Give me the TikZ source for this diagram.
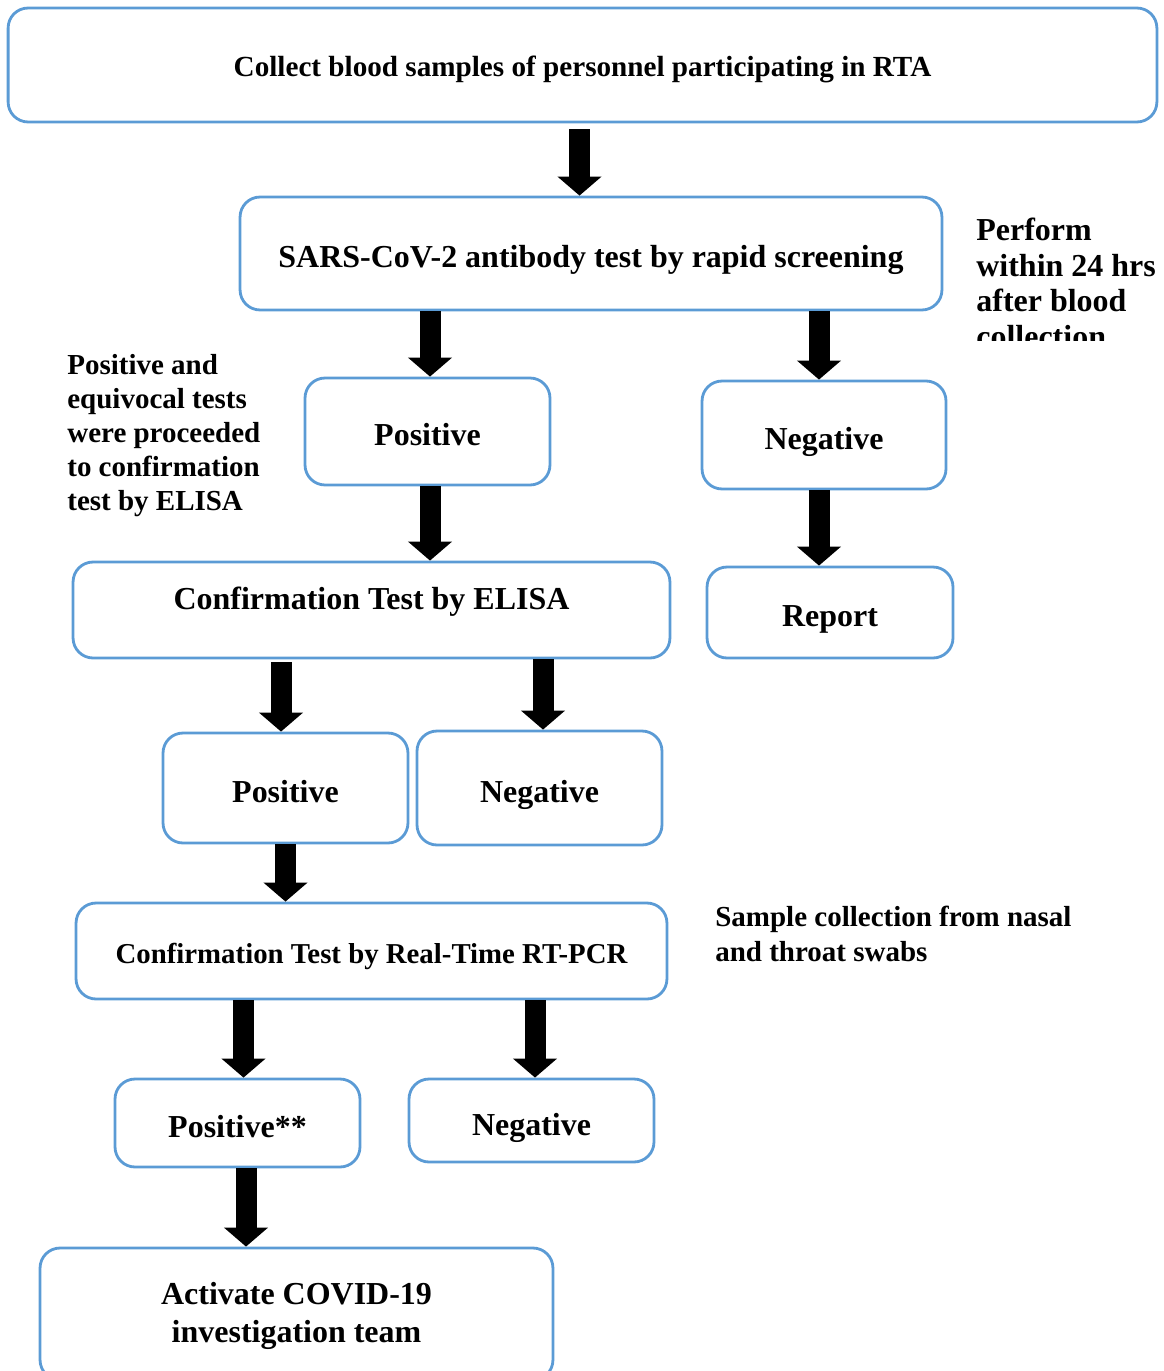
\documentclass[tikz,border=0pt]{standalone}
\usepackage{fontspec}
\setmainfont{Liberation Serif}
\usetikzlibrary{arrows.meta, positioning}
\definecolor{boxblue}{RGB}{91,155,213}

\begin{document}
\begin{tikzpicture}[x=0.02cm, y=-0.02cm,
    box/.style={draw=boxblue, line width=1.6pt, rounded corners=0.4cm, inner sep=0pt,
      align=center, text height=17.5pt, text depth=1pt,
      font=\bfseries\fontsize{18.2}{21.5}\selectfont},
    boxtext/.style={inner sep=0pt, align=center, font=\bfseries\fontsize{18.2}{21.6}\selectfont},
    note/.style={inner sep=0pt, align=left, anchor=north west, font=\bfseries\fontsize{16.5}{19.4}\selectfont},
    blockarrow/.style={line width=0.42cm, -{Triangle[width=0.86cm,length=0.38cm]}}]
        \useasboundingbox (0,0) rectangle (1163,1371);
        \clip (0,0) rectangle (1163,1371);

        % Screening
        \node[box, minimum width=22.98cm, minimum height=2.28cm, text height=14pt, font=\bfseries\fontsize{16.6}{20}\selectfont] (collect) at (582.5,65) {Collect blood samples of personnel participating in RTA};
        \node[box, minimum width=14.04cm, minimum height=2.26cm] (rapid) at (591,253.5) {SARS-CoV-2 antibody test by rapid screening};
        \node[box, minimum width=4.9cm, minimum height=2.14cm] (rapidpos) at (427.5,431.5) {Positive};
        \node[box, minimum width=4.88cm, minimum height=2.16cm] (rapidneg) at (824,435) {Negative};
        \node[box, minimum width=4.92cm, minimum height=1.82cm] (report) at (830,612.5) {Report};

        % ELISA
        \node[box, minimum width=11.94cm, minimum height=1.92cm] (elisa) at (371.5,610) {};
        \node[boxtext] (elisatext) at (371.5,602) {Confirmation Test by ELISA};
        \node[box, minimum width=4.9cm, minimum height=2.2cm] (elisapos) at (285.5,788) {Positive};
        \node[box, minimum width=4.9cm, minimum height=2.28cm] (elisaneg) at (539.5,788) {Negative};

        % RT-PCR
        \node[box, minimum width=11.82cm, minimum height=1.92cm, text height=15.2pt, font=\bfseries\fontsize{16.4}{20}\selectfont] (pcr) at (371.5,951) {Confirmation Test by Real-Time RT-PCR};
        \node[box, minimum width=4.9cm, minimum height=1.76cm] (pcrpos) at (237.5,1123) {Positive**};
        \node[box, minimum width=4.9cm, minimum height=1.66cm] (pcrneg) at (531.5,1120.5) {Negative};
        \node[box, minimum width=10.26cm, minimum height=2.64cm] (team) at (296.5,1314) {};
        \node[boxtext] (teamtext) at (296.5,1316) {Activate COVID-19\\investigation team};

        % Arrows
        \draw[blockarrow] ([xshift=-0.06cm, yshift=-0.12cm]collect.south) -- ([xshift=-0.06cm]collect.south |- rapid.north);
        \draw[blockarrow] ([xshift=0.05cm]rapidpos.north |- rapid.south) -- ([xshift=0.05cm]rapidpos.north);
        \draw[blockarrow] ([xshift=-0.1cm]rapidneg.north |- rapid.south) -- ([xshift=-0.1cm]rapidneg.north);
        \draw[blockarrow] ([xshift=0.05cm]rapidpos.south) -- ([xshift=0.05cm]rapidpos.south |- elisa.north);
        \draw[blockarrow] ([xshift=-0.1cm]rapidneg.south) -- ([xshift=-0.1cm]rapidneg.south |- report.north);
        \draw[blockarrow] ([xshift=-0.09cm, yshift=-0.06cm]elisapos.north |- elisa.south) -- ([xshift=-0.09cm]elisapos.north);
        \draw[blockarrow] ([xshift=0.07cm]elisaneg.north |- elisa.south) -- ([xshift=0.07cm]elisaneg.north);
        \draw[blockarrow] (elisapos.south) -- (elisapos.south |- pcr.north);
        \draw[blockarrow] ([xshift=0.12cm]pcrpos.north |- pcr.south) -- ([xshift=0.12cm]pcrpos.north);
        \draw[blockarrow] ([xshift=0.07cm]pcrneg.north |- pcr.south) -- ([xshift=0.07cm]pcrneg.north);
        \draw[blockarrow] ([xshift=0.17cm]pcrpos.south) -- ([xshift=0.17cm]pcrpos.south |- team.north);

        % Notes
        \begin{scope}
          \clip (940,190) rectangle (1163,341);
          \node[note, font=\bfseries\fontsize{18.2}{20.2}\selectfont] (timing) at (976,218) {Perform\\within 24 hrs\\after blood\\collection};
        \end{scope}
        \node[note] (equivocal) at (67,354) {Positive and\\equivocal tests\\were proceeded\\to confirmation\\test by ELISA};
        \node[note, font=\bfseries\fontsize{16.5}{19.9}\selectfont] (swabs) at (715,906) {Sample collection from nasal\\and throat swabs};
      \end{tikzpicture}
\end{document}
